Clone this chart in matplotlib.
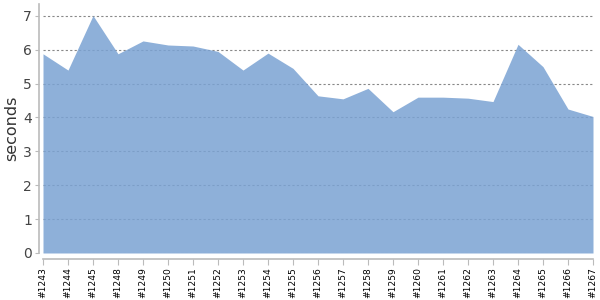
import matplotlib
matplotlib.use("Agg")
import matplotlib.pyplot as plt

builds = ["#1243", "#1244", "#1245", "#1248", "#1249", "#1250", "#1251", "#1252",
          "#1253", "#1254", "#1255", "#1256", "#1257", "#1258", "#1259", "#1260",
          "#1261", "#1262", "#1263", "#1264", "#1265", "#1266", "#1267"]
seconds = [5.88, 5.40, 7.01, 5.88, 6.26, 6.14, 6.11, 5.95, 5.40, 5.90, 5.45, 4.64,
           4.55, 4.86, 4.17, 4.60, 4.60, 4.57, 4.47, 6.16, 5.50, 4.25, 4.03]
yticks = [0, 1, 2, 3, 4, 5, 6, 7]

fig = plt.figure(figsize=(6, 3), dpi=100)
ax = fig.add_axes([43 / 600, 47 / 300, 550 / 600, 249 / 300])

x = list(range(len(builds)))
ax.fill_between(x, seconds, 0, color="#7aa2d3", alpha=0.85, linewidth=0, zorder=2)

ax.set_xlim(0, len(builds) - 1)
ax.set_ylim(0, 7.35)
ax.tick_params(axis="x", labelrotation=90, labelsize=6.6, labelcolor="black",
               color="#bbbbbb", length=4, pad=2)
ax.tick_params(axis="y", labelsize=10, labelcolor="#444444", color="#bbbbbb", length=3, pad=2)
ax.set_yticks(yticks)
ax.set_xticks(x)
ax.set_xticklabels(builds, rotation=90, fontsize=6.6, color="black")

ax.grid(axis="y", color="#888888", linestyle=(0, (2, 2)), linewidth=0.8, zorder=1)
ax.set_axisbelow(True)

for s in ["top", "right"]:
    ax.spines[s].set_visible(False)
ax.spines["left"].set_position(("outward", 3))
ax.spines["bottom"].set_position(("outward", 4))
ax.spines["left"].set_color("#bbbbbb")
ax.spines["bottom"].set_color("#bbbbbb")
ax.spines["left"].set_linewidth(1.2)
ax.spines["bottom"].set_linewidth(1.2)

ax.set_ylabel("seconds", fontsize=11.5, color="#333333")
ax.yaxis.set_label_coords(-24 / 550, 0.5)

fig.savefig("out.png", dpi=100)
